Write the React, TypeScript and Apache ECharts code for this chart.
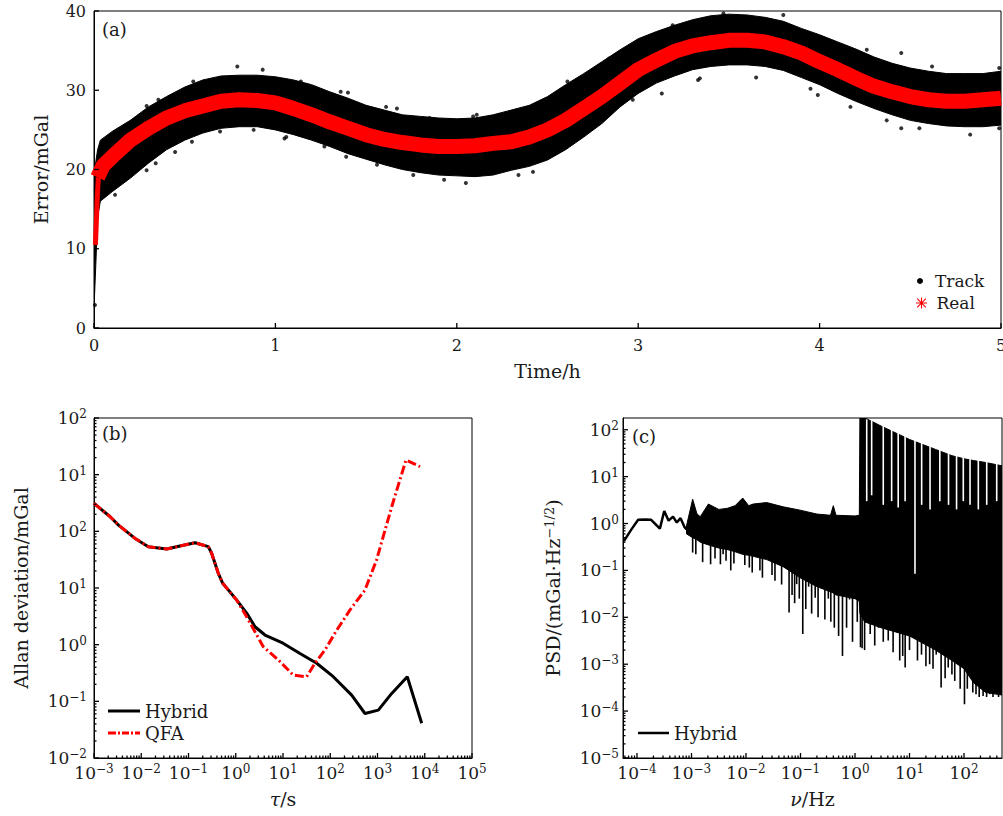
import React, { useEffect, useRef } from 'react';
import * as echarts from 'echarts';

const FONT = '"DejaVu Serif", serif';
const TXT = '#1a1a1a';

// ---------- Panel (a): Error vs Time ----------
const trackTime = [0, 0.01, 0.02, 0.035, 0.1, 0.2, 0.3, 0.4, 0.5, 0.6, 0.7, 0.8, 0.9, 1.0, 1.1, 1.2, 1.3, 1.4, 1.5, 1.6, 1.7, 1.8, 1.9, 2.0, 2.1, 2.2, 2.3, 2.4, 2.5, 2.6, 2.7, 2.8, 2.9, 3.0, 3.1, 3.2, 3.3, 3.4, 3.5, 3.6, 3.7, 3.8, 3.9, 4.0, 4.1, 4.2, 4.3, 4.4, 4.5, 4.6, 4.7, 4.8, 4.9, 5.0];
const trackUpper = [19, 21, 22.5, 23.7, 24.8, 26.2, 27.9, 29.2, 30.4, 31.3, 31.8, 31.9, 31.9, 31.7, 31.3, 30.7, 29.8, 29.0, 28.1, 27.5, 26.9, 26.7, 26.5, 26.4, 26.5, 26.9, 27.5, 28.1, 29.2, 30.7, 32.1, 33.6, 35.1, 36.5, 37.4, 38.2, 38.9, 39.4, 39.6, 39.5, 39.2, 38.7, 37.8, 37.0, 36.1, 35.2, 34.2, 33.4, 32.8, 32.4, 32.1, 32.1, 32.1, 32.4];
const trackLower = [2.5, 8, 14, 16, 17.2, 18.9, 20.8, 22.5, 23.7, 24.6, 25.2, 25.4, 25.4, 25.0, 24.4, 23.7, 22.9, 22.0, 21.3, 20.6, 20.0, 19.6, 19.3, 19.2, 19.1, 19.3, 19.9, 20.4, 21.2, 22.5, 24.1, 25.8, 27.9, 29.6, 30.9, 31.8, 32.6, 33.0, 33.2, 33.2, 33.0, 32.5, 31.6, 30.7, 29.6, 28.6, 27.7, 26.9, 26.2, 25.8, 25.5, 25.4, 25.4, 25.6];
const outlierTime = [0.79, 0.93, 1.4, 1.67, 2.09, 1.93, 2.05, 0.116, 1.06, 0.005, 0.54, 4.45, 4.62, 3.65, 3.8, 3.99, 4.45, 4.83, 2.34, 2.42, 3.13, 3.33, 4.99, 4.99,
  0.547, 0.355, 0.29, 0.29, 0.34, 0.447, 0.695, 0.88, 1.05, 1.27, 1.39, 1.56, 1.76, 1.04, 1.14, 1.36, 1.61, 1.85, 2.11,
  2.61, 2.84, 3.01, 3.19, 3.47, 4.26, 2.62, 2.79, 2.97, 3.34, 3.95, 4.17, 4.37, 4.55];
const outlierVal = [33.0, 32.6, 29.7, 27.7, 26.7, 18.7, 18.3, 16.8, 24.1, 2.9, 23.5, 34.7, 33.0, 31.6, 39.5, 29.4, 25.2, 24.4, 19.3, 19.7, 29.6, 31.3, 25.2, 32.8,
  31.1, 28.8, 28.0, 19.9, 20.8, 22.2, 24.8, 25.0, 23.9, 22.9, 21.6, 20.6, 19.3, 31.3, 31.1, 29.8, 27.9, 26.5, 26.9,
  31.1, 34.0, 36.3, 38.2, 39.7, 35.1, 23.3, 26.2, 28.8, 31.5, 30.2, 27.9, 26.2, 25.2];
const realStartTime = [0.008, 0.013, 0.018, 0.024];
const realStartVal = [10.5, 13.5, 16.5, 19.0];
const realTime = [0.02, 0.05, 0.1, 0.2, 0.3, 0.4, 0.5, 0.6, 0.7, 0.8, 0.9, 1.0, 1.1, 1.2, 1.3, 1.4, 1.5, 1.6, 1.7, 1.8, 1.9, 2.0, 2.1, 2.2, 2.3, 2.4, 2.5, 2.6, 2.7, 2.8, 2.9, 3.0, 3.1, 3.2, 3.3, 3.4, 3.5, 3.6, 3.7, 3.8, 3.9, 4.0, 4.1, 4.2, 4.3, 4.4, 4.5, 4.6, 4.7, 4.8, 4.9, 5.0];
const realVal = [19.0, 20.5, 21.6, 23.7, 25.2, 26.5, 27.4, 28.0, 28.6, 28.8, 28.7, 28.4, 27.7, 26.9, 26.0, 25.2, 24.4, 23.8, 23.4, 23.1, 22.9, 22.9, 23.0, 23.3, 23.5, 24.1, 25.0, 26.2, 27.7, 29.2, 30.9, 32.6, 33.8, 34.9, 35.6, 36.0, 36.3, 36.3, 36.1, 35.5, 34.7, 33.6, 32.6, 31.5, 30.5, 29.8, 29.2, 28.8, 28.6, 28.6, 28.8, 29.0];
const timeTicks = [0, 1, 2, 3, 4, 5];
const errorTicks = [0, 10, 20, 30, 40];

// ---------- Panel (b): Allan deviation ----------
const tauHybrid = [1e-3, 2.2e-3, 3.3e-3, 7.4e-3, 0.0141, 0.0345, 0.066, 0.137, 0.263, 0.309, 0.427, 0.53, 1.05, 1.7, 2.55, 4.16, 10, 22.9, 51.6, 116, 284, 543, 1040, 2000, 4270, 8610];
const adevHybrid = [312, 181, 129, 75, 53.6, 48.7, 55, 63, 53.6, 41, 18.2, 12.1, 6.1, 3.6, 2.07, 1.48, 1.06, 0.70, 0.47, 0.272, 0.129, 0.061, 0.070, 0.138, 0.272, 0.041];
const tauQFA = [1e-3, 2.2e-3, 3.3e-3, 7.4e-3, 0.0141, 0.0345, 0.066, 0.137, 0.263, 0.309, 0.427, 0.53, 1.05, 1.7, 2.55, 3.83, 7.94, 16.5, 31.6, 47.5, 77.6, 137, 262, 543, 955, 2000, 4010, 7940];
const adevQFA = [312, 181, 129, 75, 53.6, 48.7, 55, 63, 53.6, 41, 18.2, 12.1, 6.1, 3.1, 1.69, 0.92, 0.54, 0.29, 0.27, 0.47, 0.81, 1.8, 4.1, 9.2, 31.2, 272, 1815, 1384];
const allanYExp = [-2, -1, 0, 1, 2, 1, 2];

// ---------- Panel (c): PSD ----------
const psdLowFreq = [5.75e-5, 7.9e-5, 1.05e-4, 1.41e-4, 1.82e-4, 2.63e-4, 3.16e-4, 3.8e-4, 4.57e-4, 5.37e-4, 6.3e-4, 7.4e-4, 8.1e-4];
const psdLowVal = [0.42, 0.75, 1.2, 1.22, 1.2, 0.78, 1.85, 1.15, 1.4, 1.05, 1.3, 0.85, 0.75];
const band1Freq = [8.1e-4, 1.05e-3, 1.26e-3, 1.45e-3, 2.04e-3, 3.16e-3, 4.47e-3, 6.3e-3, 8.7e-3, 0.0112, 0.0135, 0.024, 0.048, 0.098, 0.2, 0.355, 0.4, 0.447, 1.0, 1.2];
const band1Upper = [0.9, 3.3, 1.6, 1.4, 2.6, 2.0, 2.1, 2.4, 3.5, 2.4, 2.6, 2.8, 2.27, 1.93, 1.59, 1.5, 2.4, 1.5, 1.45, 1.5];
const band1Lower = [0.6, 0.5, 0.45, 0.4, 0.35, 0.3, 0.28, 0.25, 0.22, 0.21, 0.2, 0.17, 0.12, 0.07, 0.045, 0.035, 0.033, 0.03, 0.025, 0.022];
const band2Freq = [1.2, 1.23, 1.5, 3.0, 10, 30, 60, 100, 150, 250, 498];
const band2Upper = [1.5, 200, 180, 120, 62, 38, 28, 24, 22, 20, 17];
const band2Lower = [0.022, 0.012, 0.008, 0.006, 0.004, 0.002, 0.0012, 0.0008, 0.0004, 0.00025, 0.00022];
const spikeFreq = [1.05e-3, 1.2e-3, 1.6e-3, 2.24e-3, 2.7e-3, 3.39e-3, 3.8e-3, 4.3e-3, 5.25e-3, 6e-3, 7.24e-3, 9.5e-3, 0.0115, 0.013, 0.0151, 0.018, 0.02, 0.024, 0.03, 0.034, 0.0389, 0.045, 0.0562, 0.0617, 0.07, 0.078, 0.0851, 0.095, 0.11, 0.125, 0.141, 0.16, 0.186, 0.21, 0.245, 0.28, 0.324, 0.36, 0.417, 0.5, 0.589, 0.7, 0.794, 0.9, 1.1, 1.26, 1.35, 1.5, 1.9, 2.3, 2.69, 3.3, 4.07, 5, 6.61, 7.5, 8.32, 10, 11.7, 14, 16.6, 20, 23.4, 27, 30.9, 38, 45, 51.3, 60, 67.6, 85, 102, 115, 126, 145, 166, 190, 224, 260, 295, 340, 389, 430, 479];
const spikeLow = [0.24, 0.22, 0.15, 0.135, 0.18, 0.135, 0.22, 0.16, 0.10, 0.14, 0.31, 0.13, 0.115, 0.09, 0.2, 0.1, 0.07, 0.19, 0.08, 0.06, 0.16, 0.05, 0.115, 0.0126, 0.03, 0.02, 0.051, 0.025, 0.0044, 0.015, 0.045, 0.012, 0.026, 0.01, 0.051, 0.009, 0.025, 0.008, 0.006, 0.004, 0.0015, 0.006, 0.024, 0.003, 0.008, 0.0023, 0.0022, 0.002, 0.0044, 0.0025, 0.006, 0.003, 0.0032, 0.0018, 0.0012, 0.0015, 0.00085, 0.002, 0.0044, 0.0012, 0.0016, 0.0009, 0.001, 0.0008, 0.0016, 0.00032, 0.0005, 0.00085, 0.0006, 0.00044, 0.0003, 0.00014, 0.0003, 0.0006, 0.00025, 0.00023, 0.0002, 0.00021, 0.0002, 0.00023, 0.0002, 0.00026, 0.0002, 0.0006];
const spikeTop = 0.8;
const gapFreq = [1.64, 2.02, 3.3, 4.7, 6.2, 8.3, 12.6, 16.7, 23.8, 36, 52, 73, 97, 129, 183, 261, 398];
const gapDepth = [3, 4, 2.5, 3, 2.2, 3, 0.085, 2.5, 2, 3, 2.5, 2, 3, 2.5, 2, 2.5, 3];

const L = Math.log10;
const supTxt = (e: number) => (e < 0 ? '\u2212' + Math.abs(e) : String(e));
const pow = (e: number) => `{b|10}{s|${supTxt(e)}}`;
const richPow = {
  b: { fontFamily: FONT, fontSize: 17, color: TXT, lineHeight: 20 },
  s: { fontFamily: FONT, fontSize: 12, color: TXT, lineHeight: 12, verticalAlign: 'top' },
};
const minorLogs = (n0: number, n1: number, lo: number, hi: number) => {
  const out: number[] = [];
  for (let n = n0; n <= n1; n++) for (let k = 2; k <= 9; k++) {
    const v = n + L(k);
    if (v >= lo && v <= hi) out.push(v);
  }
  return out;
};
const range = (a: number, b: number) => {
  const out: number[] = [];
  for (let i = a; i <= b; i++) out.push(i);
  return out;
};

const nameStyle = {
  fontFamily: FONT,
  fontSize: 19,
  color: TXT,
  rich: {
    i: { fontFamily: FONT, fontSize: 19, fontStyle: 'italic', color: TXT },
    s: { fontFamily: FONT, fontSize: 13, color: TXT, lineHeight: 14, verticalAlign: 'top' },
  },
};
const axLine = { show: true, onZero: false, lineStyle: { color: '#000', width: 1 } };
const noSplit = { show: false };
const noTick = { show: false };

const bandRender = (xs: number[], up: number[], lo: number[], logY: boolean, logX: boolean) =>
  (_params: any, api: any) => {
    const fx = (v: number) => (logX ? L(v) : v);
    const fy = (v: number) => (logY ? L(v) : v);
    const pts: number[][] = [];
    for (let i = 0; i < xs.length; i++) pts.push(api.coord([fx(xs[i]), fy(up[i])]));
    for (let i = xs.length - 1; i >= 0; i--) pts.push(api.coord([fx(xs[i]), fy(lo[i])]));
    return { type: 'polygon', shape: { points: pts }, style: { fill: '#000', stroke: '#000', lineWidth: 1 } };
  };

const vlineRender = (color: string, width: number) => (_params: any, api: any) => {
  const x = api.value(0);
  const p0 = api.coord([x, api.value(1)]);
  const p1 = api.coord([x, api.value(2)]);
  return { type: 'line', shape: { x1: p0[0], y1: p0[1], x2: p1[0], y2: p1[1] }, style: { stroke: color, lineWidth: width } };
};

// Axis ticks drawn as a custom series: every item is [value, isY, length]; placed with api.coord.
const makeTickSeries = (xi: number, yi: number, xMin: number, yMin: number, xMaj: number[], xMin2: number[], yMaj: number[], yMin2: number[]) => {
  const items: number[][] = [];
  xMaj.forEach((v) => items.push([v, 0, 5]));
  xMin2.forEach((v) => items.push([v, 0, 2.5]));
  yMaj.forEach((v) => items.push([v, 1, 5]));
  yMin2.forEach((v) => items.push([v, 1, 2.5]));
  return {
    type: 'custom', name: 'ticks' + xi, xAxisIndex: xi, yAxisIndex: yi, clip: false, silent: true, z: 10,
    itemStyle: { color: '#000' },
    data: items.map((it) => ({ value: [it[0], yMin], tickKind: it[1], tickLen: it[2] })),
    renderItem: (params: any, api: any) => {
      const it = items[params.dataIndex];
      const v = it[0];
      const len = it[2];
      if (it[1] === 1) {
        const p = api.coord([xMin, v]);
        return { type: 'line', shape: { x1: p[0], y1: p[1], x2: p[0] + len, y2: p[1] }, style: { stroke: '#000', lineWidth: 1.3 } };
      }
      const p = api.coord([v, yMin]);
      return { type: 'line', shape: { x1: p[0], y1: p[1], x2: p[0], y2: p[1] - len }, style: { stroke: '#000', lineWidth: 1.3 } };
    },
  };
};

const ASTERISK = 'path://M0 4.5H10V5.5H0Z M4.5 0H5.5V10H4.5Z M0.7 1.4L1.4 0.7L9.3 8.6L8.6 9.3Z M8.6 0.7L9.3 1.4L1.4 9.3L0.7 8.6Z';
const DASHDOT = 'path://M0 0H8V3H0Z M10 0H12V3H10Z M14 0H21V3H14Z M23 0H25V3H23Z M27 0H32V3H27Z';

function buildOption() {
  const xMinB = -3, xMaxB = 5, yMinB = -2, yMaxB = 4;
  const xMinC = -4.257, xMaxC = 2.697, yMinC = -5, yMaxC = 2.25;
  const gridBase = { show: true, borderColor: '#000', borderWidth: 1, backgroundColor: 'transparent', outerBoundsMode: 'none', containLabel: false };

  return {
    animation: false,
    backgroundColor: '#fff',
    textStyle: { fontFamily: FONT },
    grid: [
      { ...gridBase, left: 94, right: 2, top: 11, height: 317 },
      { ...gridBase, left: 94, width: 378, top: 418, height: 340 },
      { ...gridBase, left: 623, width: 379, top: 418, height: 340 },
    ],
    xAxis: [
      {
        gridIndex: 0, type: 'value', min: 0, max: 5, interval: 1, position: 'bottom',
        axisLine: axLine, splitLine: noSplit, axisTick: noTick,
        axisLabel: { fontFamily: FONT, fontSize: 16, color: TXT, margin: 9 },
        name: 'Time/h', nameLocation: 'middle', nameGap: 33, nameTextStyle: nameStyle,
      },
      {
        gridIndex: 1, type: 'value', min: xMinB, max: xMaxB, interval: 1, position: 'bottom',
        axisLine: axLine, splitLine: noSplit, axisTick: noTick,
        axisLabel: { formatter: (v: number) => pow(Math.round(v)), rich: richPow, margin: 5 },
        name: '{i|τ}/s', nameLocation: 'middle', nameGap: 31, nameTextStyle: nameStyle,
      },
      {
        gridIndex: 2, type: 'value', min: xMinC, max: xMaxC, position: 'bottom',
        axisLine: axLine, splitLine: noSplit, axisTick: noTick,
        axisLabel: { customValues: range(-4, 2), formatter: (v: number) => pow(Math.round(v)), rich: richPow, margin: 5 },
        name: '{i|ν}/Hz', nameLocation: 'middle', nameGap: 31, nameTextStyle: nameStyle,
      },
    ],
    yAxis: [
      {
        gridIndex: 0, type: 'value', min: 0, max: 40, interval: 10, position: 'left',
        axisLine: axLine, splitLine: noSplit, axisTick: noTick,
        axisLabel: { fontFamily: FONT, fontSize: 16, color: TXT, margin: 8 },
        name: 'Error/mGal', nameLocation: 'middle', nameGap: 44, nameTextStyle: nameStyle,
      },
      {
        gridIndex: 1, type: 'value', min: yMinB, max: yMaxB, interval: 1, position: 'left',
        axisLine: axLine, splitLine: noSplit, axisTick: noTick,
        axisLabel: { formatter: (v: number) => pow(allanYExp[Math.round(v) + 2]), rich: richPow, margin: 7 },
        name: 'Allan deviation/mGal', nameLocation: 'middle', nameGap: 64, nameTextStyle: nameStyle,
      },
      {
        gridIndex: 2, type: 'value', min: yMinC, max: yMaxC, position: 'left',
        axisLine: axLine, splitLine: noSplit, axisTick: noTick,
        axisLabel: { customValues: range(-5, 2), formatter: (v: number) => pow(Math.round(v)), rich: richPow, margin: 4 },
        name: 'PSD/(mGal·Hz{s|\u22121/2})', nameLocation: 'middle', nameGap: 61, nameTextStyle: nameStyle,
      },
    ],
    legend: [
      {
        data: [{ name: 'Track', icon: 'circle' }], left: 917, top: 271, padding: 0,
        itemWidth: 20, itemHeight: 6, selectedMode: false,
        textStyle: { fontFamily: FONT, fontSize: 17, color: TXT, lineHeight: 20 },
      },
      {
        data: [{ name: 'Real', icon: ASTERISK }], left: 916, top: 293, padding: 0,
        itemWidth: 20, itemHeight: 11, selectedMode: false,
        textStyle: { fontFamily: FONT, fontSize: 17, color: TXT, lineHeight: 20 },
      },
      {
        data: [{ name: 'Hybrid', icon: 'rect' }, { name: 'QFA', icon: DASHDOT }],
        orient: 'vertical', left: 108, top: 702, padding: 0, itemGap: 4,
        itemWidth: 32, itemHeight: 3, selectedMode: false,
        textStyle: { fontFamily: FONT, fontSize: 18, color: TXT, lineHeight: 18 },
      },
      {
        data: [{ name: 'Hybrid', icon: 'rect' }],
        left: 638, top: 724, padding: 0,
        itemWidth: 31, itemHeight: 2.5, selectedMode: false,
        textStyle: { fontFamily: FONT, fontSize: 18, color: TXT, lineHeight: 18 },
      },
    ],
    graphic: [
      { type: 'text', left: 102, top: 20, style: { text: '(a)', font: `18px ${FONT}`, fill: TXT } },
      { type: 'text', left: 102, top: 424, style: { text: '(b)', font: `18px ${FONT}`, fill: TXT } },
      { type: 'text', left: 632, top: 427, style: { text: '(c)', font: `18px ${FONT}`, fill: TXT } },
    ],
    series: [
      {
        type: 'custom', name: 'Track', xAxisIndex: 0, yAxisIndex: 0, clip: true, silent: true,
        itemStyle: { color: '#000' },
        data: [[trackTime[0], trackUpper[0]]],
        renderItem: bandRender(trackTime, trackUpper, trackLower, false, false),
        z: 2,
      },
      {
        type: 'scatter', name: 'Track', xAxisIndex: 0, yAxisIndex: 0, symbolSize: 4, silent: true,
        itemStyle: { color: '#000' }, clip: true,
        data: outlierTime.map((t, i) => [t, outlierVal[i]]),
        z: 2,
      },
      {
        type: 'line', name: 'Real', xAxisIndex: 0, yAxisIndex: 0, showSymbol: false, symbol: 'none', silent: true,
        itemStyle: { color: '#ff0000' }, lineStyle: { color: '#ff0000', width: 5 },
        data: realStartTime.map((t, i) => [t, realStartVal[i]]),
        z: 3,
      },
      {
        type: 'line', name: 'Real', xAxisIndex: 0, yAxisIndex: 0, showSymbol: false, symbol: 'none', silent: true,
        itemStyle: { color: '#ff0000' }, lineStyle: { color: '#ff0000', width: 15 },
        data: realTime.map((t, i) => [t, realVal[i]]),
        z: 3,
      },
      {
        type: 'line', name: 'Hybrid', xAxisIndex: 1, yAxisIndex: 1, showSymbol: false, symbol: 'none', silent: true,
        itemStyle: { color: '#000' }, lineStyle: { color: '#000', width: 3 },
        data: tauHybrid.map((t, i) => [L(t), L(adevHybrid[i])]),
        z: 3,
      },
      {
        type: 'line', name: 'QFA', xAxisIndex: 1, yAxisIndex: 1, showSymbol: false, symbol: 'none', silent: true,
        itemStyle: { color: '#ff0000' }, lineStyle: { color: '#ff0000', width: 3, type: [9, 3, 2, 3] },
        data: tauQFA.map((t, i) => [L(t), L(adevQFA[i])]),
        z: 4,
      },
      {
        type: 'custom', name: 'PSD band 1', xAxisIndex: 2, yAxisIndex: 2, clip: true, silent: true,
        itemStyle: { color: '#000' }, data: [[L(band1Freq[0]), 0]],
        renderItem: bandRender(band1Freq, band1Upper, band1Lower, true, true),
        z: 2,
      },
      {
        type: 'custom', name: 'PSD band 2', xAxisIndex: 2, yAxisIndex: 2, clip: true, silent: true,
        itemStyle: { color: '#000' }, data: [[L(band2Freq[0]), 0]],
        renderItem: bandRender(band2Freq, band2Upper, band2Lower, true, true),
        z: 2,
      },
      {
        type: 'custom', name: 'PSD spikes', xAxisIndex: 2, yAxisIndex: 2, clip: true, silent: true,
        itemStyle: { color: '#000' }, encode: { x: 0, y: [1, 2] },
        data: spikeFreq.map((f, i) => [L(f), L(spikeTop), L(spikeLow[i])]),
        renderItem: vlineRender('#000', 1.6),
        z: 3,
      },
      {
        type: 'custom', name: 'PSD gaps', xAxisIndex: 2, yAxisIndex: 2, clip: true, silent: true,
        itemStyle: { color: '#fff' }, encode: { x: 0, y: [1, 2] },
        data: gapFreq.map((f, i) => [L(f), yMaxC - 0.03, L(gapDepth[i])]),
        renderItem: vlineRender('#ffffff', 1.6),
        z: 4,
      },
      {
        type: 'line', name: 'Hybrid', xAxisIndex: 2, yAxisIndex: 2, showSymbol: false, symbol: 'none', silent: true,
        itemStyle: { color: '#000' }, lineStyle: { color: '#000', width: 2.5 },
        data: psdLowFreq.map((f, i) => [L(f), L(psdLowVal[i])]),
        z: 3,
      },
      makeTickSeries(0, 0, 0, 0, timeTicks, [], errorTicks, []),
      makeTickSeries(1, 1, xMinB, yMinB, range(-3, 5), minorLogs(-3, 4, xMinB, xMaxB), range(-2, 4), minorLogs(-2, 3, yMinB, yMaxB)),
      makeTickSeries(2, 2, xMinC, yMinC, range(-4, 2), minorLogs(-5, 2, xMinC, xMaxC), range(-5, 2), minorLogs(-5, 2, yMinC, yMaxC)),
    ],
  };
}

export default function App() {
  const ref = useRef<HTMLDivElement>(null);
  useEffect(() => {
    if (!ref.current) return;
    const chart = echarts.init(ref.current, undefined, { renderer: 'svg' });
    chart.setOption(buildOption() as any);
    return () => chart.dispose();
  }, []);
  return <div ref={ref} style={{ width: 1003, height: 816, position: 'absolute', left: 0, top: 0, background: '#fff' }} />;
}
